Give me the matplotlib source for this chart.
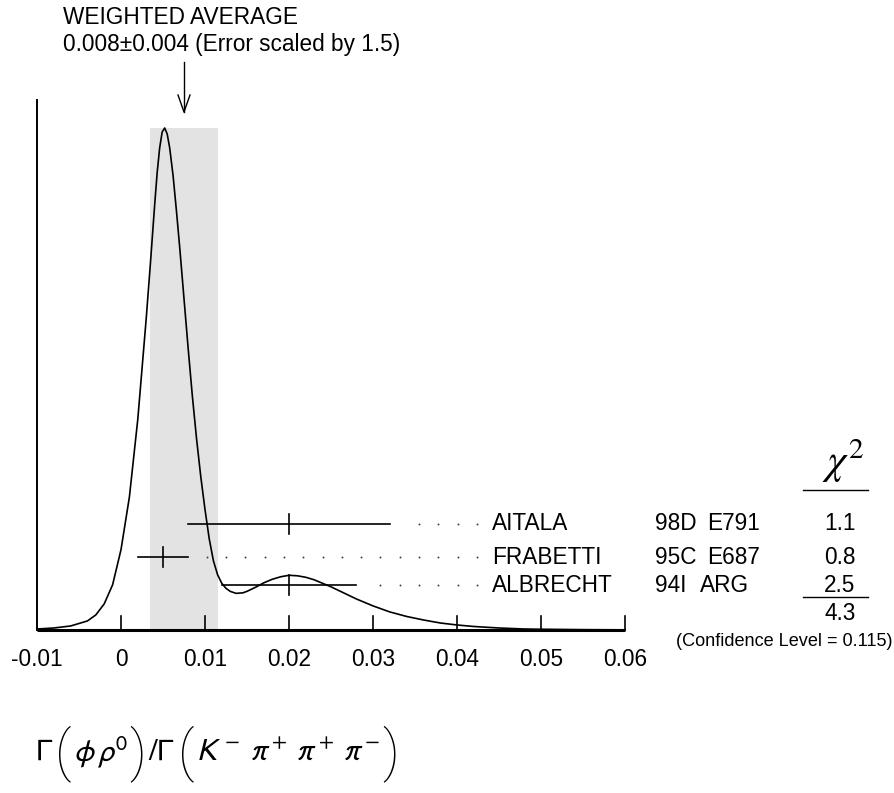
import numpy as np
import matplotlib
matplotlib.use("Agg")
import matplotlib.pyplot as plt

plt.rcParams['font.family'] = ['Liberation Sans', 'DejaVu Sans']

# ---- data ----
names   = ["AITALA", "FRABETTI", "ALBRECHT"]
refs    = ["98D", "95C", "94I"]
expts   = ["E791", "E687", "ARG"]
values  = [0.020, 0.005, 0.020]
errors  = [0.012, 0.003, 0.008]
chi2    = ["1.1", "0.8", "2.5"]
chi2_total = "4.3"
conf_level = "0.115"
avg, avg_err = 0.0075, 0.004          # band of the scaled weighted average
avg_text = "0.008\u00b10.004 (Error scaled by 1.5)"

# ideogram (x value, height relative to peak)
ideo_x = [-0.010, -0.008, -0.006, -0.004, -0.003, -0.002, -0.001, 0.000, 0.001,
          0.002, 0.003, 0.0035, 0.004, 0.0043, 0.0046, 0.0049, 0.0052, 0.0055,
          0.0058, 0.0062, 0.0066, 0.007, 0.0075, 0.008, 0.0085, 0.009, 0.0095,
          0.010, 0.0105, 0.011, 0.0115, 0.012, 0.0125, 0.013, 0.0137, 0.0145,
          0.015, 0.016, 0.017, 0.018, 0.019, 0.020, 0.021, 0.022, 0.023, 0.024,
          0.025, 0.026, 0.028, 0.030, 0.032, 0.034, 0.036, 0.038, 0.040, 0.042,
          0.045, 0.048, 0.050, 0.055, 0.060]
ideo_y = [0.002, 0.004, 0.008, 0.018, 0.030, 0.052, 0.090, 0.160, 0.265,
          0.420, 0.620, 0.730, 0.845, 0.910, 0.960, 0.992, 1.000, 0.988,
          0.960, 0.905, 0.835, 0.760, 0.660, 0.560, 0.465, 0.380, 0.305,
          0.240, 0.182, 0.138, 0.110, 0.093, 0.083, 0.077, 0.073, 0.074,
          0.077, 0.085, 0.094, 0.101, 0.106, 0.109, 0.108, 0.105, 0.100, 0.093,
          0.086, 0.078, 0.062, 0.048, 0.036, 0.027, 0.020, 0.014, 0.010, 0.007,
          0.004, 0.002, 0.0015, 0.0007, 0.0003]

ticks = [-0.01, 0, 0.01, 0.02, 0.03, 0.04, 0.05, 0.06]
tick_labels = ["-0.01", "0", "0.01", "0.02", "0.03", "0.04", "0.05", "0.06"]

# ---- layout (pixels) ----
W, H = 895, 793
X0, X1 = 37, 625          # pixel of -0.01 and 0.06
YB, YTOP, YPEAK = 630, 100, 128
row_px = [524, 557, 585]
PPU = (X1 - X0) / 0.07    # pixels per unit
FS = 16.3

def fx(px): return px / W
def fy(py): return 1 - py / H

fig = plt.figure(figsize=(W / 100, H / 100), dpi=100)
ax = fig.add_axes([fx(X0), fy(YB), (X1 - X0) / W, (YB - YTOP) / H])
scale = YB - YPEAK
ax.set_xlim(-0.01, 0.06)
ax.set_ylim(0, (YB - YTOP) / scale)
ax.axis("off")

def hy(py):  # pixel row -> axes y
    return (YB - py) / scale

# shaded band
ax.fill_between([avg - avg_err, avg + avg_err], 0, 1.0,
                color="#e3e3e3", lw=0, zorder=0)

# ideogram
ax.plot(ideo_x, ideo_y, color="black", lw=1.2, zorder=3, clip_on=False,
        solid_joinstyle="round")

# axes lines
ax.plot([-0.01, -0.01], [0, hy(YTOP)], color="black", lw=1.4, clip_on=False)
ax.plot([-0.01, 0.06], [0, 0], color="black", lw=2.2, clip_on=False,
        solid_capstyle="butt")
for t in ticks[1:]:
    ax.plot([t, t], [0, 14 / scale], color="black", lw=1.2, clip_on=False)
for t, lab in zip(ticks, tick_labels):
    fig.text(fx(X0 + (t + 0.01) * PPU), fy(659), lab, ha="center", va="center",
             fontsize=FS)

# measurements
dot0 = -0.01 + (206.7 - X0) / PPU
dstep = 19.3 / PPU
dend = -0.01 + (479 - X0) / PPU
for v, e, py in zip(values, errors, row_px):
    y = hy(py)
    ax.plot([v - e, v + e], [y, y], color="black", lw=1.2, zorder=4, clip_on=False)
    ax.plot([v, v], [y - 10 / scale, y + 10 / scale], color="black", lw=1.2,
            zorder=4, clip_on=False)
    k = np.arange(0, 30)
    dx = dot0 + k * dstep
    dx = dx[(dx > v + e + 15 / PPU) & (dx <= dend)]
    ax.plot(dx, [y] * len(dx), ls="none", marker="o", ms=1.4, mew=0,
            color="#444444", clip_on=False)

for n, r, ex, c, py in zip(names, refs, expts, chi2, row_px):
    fig.text(fx(492), fy(py), n, ha="left", va="center", fontsize=FS)
    fig.text(fx(655), fy(py), r, ha="left", va="center", fontsize=FS)
    fig.text(fx(707 if ex != "ARG" else 700), fy(py), ex, ha="left", va="center",
             fontsize=FS)
    fig.text(fx(840), fy(py), c, ha="center", va="center", fontsize=FS)

# chi^2 column
fig.text(fx(843), fy(461), r"$\chi^2$", ha="center", va="center",
         fontsize=30, math_fontfamily="stix")
fig.add_artist(plt.Line2D([fx(803), fx(868)], [fy(490), fy(490)], color="black", lw=1))
fig.add_artist(plt.Line2D([fx(803), fx(868)], [fy(597), fy(597)], color="black", lw=1))
fig.text(fx(840), fy(613), chi2_total, ha="center", va="center", fontsize=FS)
fig.text(fx(893), fy(642), f"(Confidence Level = {conf_level})", ha="right",
         va="center", fontsize=13.1)

# weighted average
fig.text(fx(63), fy(18), "WEIGHTED AVERAGE", ha="left", va="center", fontsize=FS)
fig.text(fx(63), fy(44), avg_text, ha="left", va="center", fontsize=FS)
ax_px = X0 + (avg + 0.01) * PPU
fig.add_artist(plt.Line2D([fx(ax_px), fx(ax_px)], [fy(62), fy(112)], color="black", lw=1))
fig.add_artist(plt.Line2D([fx(ax_px - 6), fx(ax_px), fx(ax_px + 6)],
                          [fy(95), fy(112), fy(95)], color="black", lw=1))

# x label, laid out piece by piece so the parentheses can be tall and thin
renderer = fig.canvas.get_renderer()
label_parts = [
    (r"$\Gamma$", 0),
    ("(", 1),
    (r"$\phi\,\rho^0$", 0),
    (")", 1),
    (r"$/\Gamma$", 0),
    ("(", 1),
    (r"$K^-\;\pi^+\;\pi^+\;\pi^-$", 0),
    (")", 1),
]
xpos = 35
for s, is_paren in label_parts:
    if is_paren:
        t = fig.text(fx(xpos), fy(754), s, ha="left", va="center", fontsize=40,
                     family="Roboto", fontweight="light")
    else:
        t = fig.text(fx(xpos), fy(752), s, ha="left", va="center", fontsize=22.5,
                     math_fontfamily="stixsans")
    bb = t.get_window_extent(renderer)
    xpos += bb.width + 2

fig.savefig("out.png", dpi=100)
